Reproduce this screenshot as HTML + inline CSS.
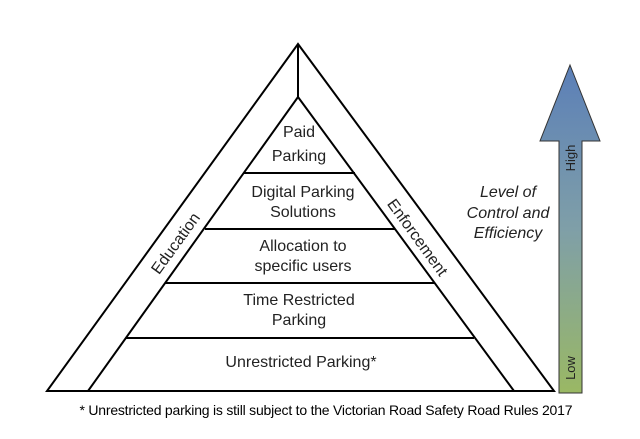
<!DOCTYPE html>
<html><head><style>body{margin:0;background:#fff}</style></head><body>
<svg width="640" height="434" viewBox="0 0 640 434" xmlns="http://www.w3.org/2000/svg" font-family="Liberation Sans, sans-serif">
<defs><linearGradient id="g" x1="0" y1="0" x2="0" y2="1"><stop offset="0" stop-color="#5b7fb8"/><stop offset="0.5" stop-color="#7f9fa8"/><stop offset="1" stop-color="#9ab864"/></linearGradient></defs>
<g stroke="#000" stroke-width="2" fill="none">
<polygon points="298,44 47,391 554,391"/>
<polyline points="88,391 298,97 514,391"/>
<line x1="298" y1="44" x2="298" y2="97"/>
<line x1="244" y1="173" x2="355" y2="173"/>
<line x1="205" y1="229" x2="395" y2="229"/>
<line x1="165" y1="283" x2="435" y2="283"/>
<line x1="126" y1="338" x2="474" y2="338"/>
</g>
<polygon points="570,65 600,141 582,141 582,393 559,393 559,141 540,141" fill="url(#g)" stroke="#333" stroke-width="1"/>
<g font-size="16" fill="#222" text-anchor="middle">
<text x="299" y="137">Paid</text><text x="299" y="161">Parking</text>
<text x="303" y="197">Digital Parking</text><text x="303" y="217">Solutions</text>
<text x="303" y="251">Allocation to</text><text x="303" y="271">specific users</text>
<text x="299" y="305">Time Restricted</text><text x="299" y="325">Parking</text>
<text x="301" y="367">Unrestricted Parking*</text>
<text transform="translate(175,243) rotate(-54)" dy="6">Education</text>
<text transform="translate(418,237) rotate(54)" dy="6">Enforcement</text>
<g font-style="italic"><text x="508" y="197">Level of</text><text x="508" y="218">Control and</text><text x="508" y="238">Efficiency</text></g>
<text transform="translate(570,158) rotate(-90)" dy="5" font-size="13">High</text>
<text transform="translate(570,368) rotate(-90)" dy="5" font-size="13">Low</text>
<text x="326" y="415" font-size="14" fill="#000" textLength="493">* Unrestricted parking is still subject to the Victorian Road Safety Road Rules 2017</text>
</g>
</svg>
</body></html>
